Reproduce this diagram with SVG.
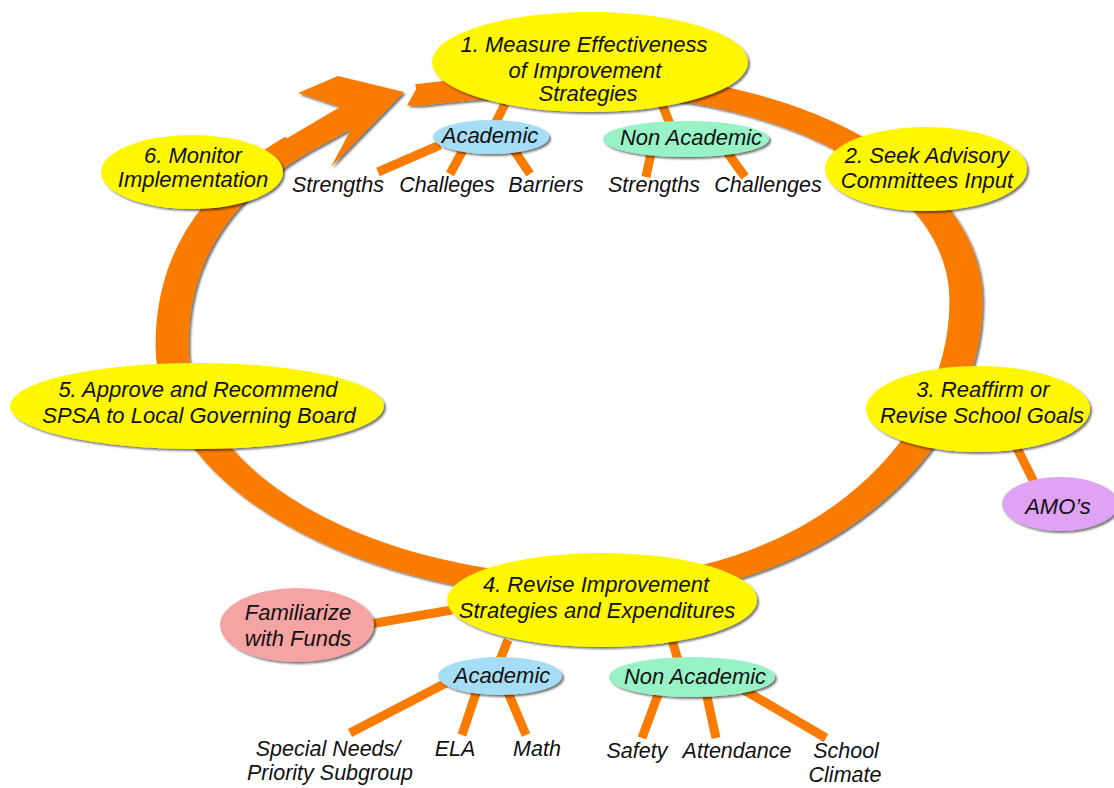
<svg xmlns="http://www.w3.org/2000/svg" width="1114" height="788" viewBox="0 0 1114 788">
<style>
.t{font-family:"Liberation Sans",Arial,sans-serif;font-style:italic;font-size:22px;fill:#111;text-anchor:middle}
.s{font-family:"Liberation Sans",Arial,sans-serif;font-style:italic;font-size:21.5px;fill:#111;text-anchor:middle}
.y{fill:#FFF700}
.b{fill:#A6DDF6}
.g{fill:#97F3C6}
.p{fill:#F6A3A3}
.v{fill:#E0A2F3}
.c line{stroke:#F97C00;stroke-width:9}
</style>
<defs>
<filter id="sh" x="-10%" y="-10%" width="125%" height="135%">
<feDropShadow dx="2" dy="2" stdDeviation="1.2" flood-color="#000" flood-opacity="0.55"/>
</filter>
</defs>
<rect width="1114" height="788" fill="#fff"/>
<g id="ring" filter="url(#sh)">
<g transform="translate(570 0) scale(1.5 1)">
<path d="M -101.3 95 C -63 88 -25 84 13.3 84 C 151.7 84 264 180.8 264 300 C 264 459 154.7 588 20 588 C -137.5 588 -265.3 479 -265.3 345 C -265.3 250 -230 187 -182.7 145" fill="none" stroke="#F97C00" stroke-width="22"/>
</g>
<polygon points="407,105.5 419,84 422,84 422,105.5" fill="#F97C00"/>
<polygon points="262,153 340,107 298,93 338,76 404,92 331,167 351,129 276,170" fill="#F97C00"/>
</g>
<g id="connectors" class="c">
<line x1="505" y1="104" x2="495" y2="124"/>
<line x1="662" y1="104" x2="670" y2="124"/>
<line x1="440" y1="145" x2="378" y2="172"/>
<line x1="463" y1="150" x2="450" y2="174"/>
<line x1="514" y1="150" x2="530" y2="174"/>
<line x1="651" y1="153" x2="646" y2="177"/>
<line x1="727" y1="152" x2="745" y2="177"/>
<line x1="1016" y1="446" x2="1034" y2="482"/>
<line x1="370" y1="624" x2="452" y2="610"/>
<line x1="508" y1="640" x2="500" y2="660"/>
<line x1="672" y1="640" x2="678" y2="660"/>
<line x1="446" y1="683" x2="350" y2="733"/>
<line x1="477" y1="690" x2="462" y2="735"/>
<line x1="507" y1="690" x2="526" y2="735"/>
<line x1="659" y1="692" x2="642" y2="738"/>
<line x1="706" y1="692" x2="716" y2="738"/>
<line x1="744" y1="690" x2="826" y2="738"/>
</g>
<g id="n1" filter="url(#sh)"><ellipse class="y" cx="590" cy="62" rx="158" ry="50"/></g>
<g id="n1t"><text class="t" x="584" y="52">1. Measure Effectiveness</text><text class="t" x="585" y="78">of Improvement</text><text class="t" x="588" y="101">Strategies</text></g>
<g id="n2" filter="url(#sh)"><ellipse class="y" cx="926" cy="169" rx="101" ry="42"/></g>
<g id="n2t"><text class="t" x="927" y="163">2. Seek Advisory</text><text class="t" x="927" y="188">Committees Input</text></g>
<g id="n3" filter="url(#sh)"><ellipse class="y" cx="978" cy="409" rx="112" ry="43"/></g>
<g id="n3t"><text class="t" x="983" y="397">3. Reaffirm or</text><text class="t" x="982" y="423">Revise School Goals</text></g>
<g id="amo" filter="url(#sh)"><ellipse class="v" cx="1060" cy="504" rx="58" ry="27"/></g>
<g id="amot"><text class="t" x="1058" y="514">AMO’s</text></g>
<g id="n4" filter="url(#sh)"><ellipse class="y" cx="602" cy="600" rx="155" ry="47"/></g>
<g id="n4t"><text class="t" x="596" y="592">4. Revise Improvement</text><text class="t" x="597" y="618">Strategies and Expenditures</text></g>
<g id="n5" filter="url(#sh)"><ellipse class="y" cx="197" cy="406" rx="187" ry="43"/></g>
<g id="n5t"><text class="t" x="198" y="397">5. Approve and Recommend</text><text class="t" x="199" y="423">SPSA to Local Governing Board</text></g>
<g id="n6" filter="url(#sh)"><ellipse class="y" cx="192" cy="172" rx="91" ry="37"/></g>
<g id="n6t"><text class="t" x="193" y="163">6. Monitor</text><text class="t" x="193" y="187">Implementation</text></g>
<g id="fam" filter="url(#sh)"><ellipse class="p" cx="297" cy="625" rx="77" ry="37"/></g>
<g id="famt"><text class="t" x="298" y="620">Familiarize</text><text class="t" x="298" y="646">with Funds</text></g>
<g id="acad1" filter="url(#sh)"><ellipse class="b" cx="491" cy="137" rx="58" ry="17"/></g>
<g id="acad1t"><text class="t" x="490" y="143">Academic</text></g>
<g id="nonac1" filter="url(#sh)"><ellipse class="g" cx="686" cy="139" rx="83" ry="18"/></g>
<g id="nonac1t"><text class="t" x="691" y="145">Non Academic</text></g>
<g id="acad2" filter="url(#sh)"><ellipse class="b" cx="500" cy="676" rx="62" ry="19"/></g>
<g id="acad2t"><text class="t" x="502" y="683">Academic</text></g>
<g id="nonac2" filter="url(#sh)"><ellipse class="g" cx="692" cy="677" rx="83" ry="20"/></g>
<g id="nonac2t"><text class="t" x="695" y="684">Non Academic</text></g>
<g id="labels">
<text class="s" x="338" y="192">Strengths</text>
<text class="s" x="447" y="192">Challeges</text>
<text class="s" x="546" y="192">Barriers</text>
<text class="s" x="654" y="192">Strengths</text>
<text class="s" x="768" y="192">Challenges</text>
<text class="s" x="328" y="756">Special Needs/</text>
<text class="s" x="330" y="780">Priority Subgroup</text>
<text class="s" x="455" y="756">ELA</text>
<text class="s" x="537" y="756">Math</text>
<text class="s" x="637" y="758">Safety</text>
<text class="s" x="737" y="758">Attendance</text>
<text class="s" x="846" y="758">School</text>
<text class="s" x="845" y="782">Climate</text>
</g>
</svg>
